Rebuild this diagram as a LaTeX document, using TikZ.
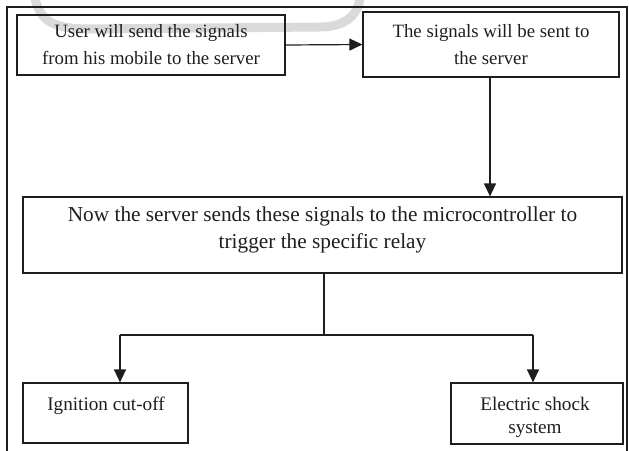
\documentclass[tikz,border=0pt]{standalone}
\usepackage{fontspec}
\setmainfont{Liberation Serif}
\usetikzlibrary{arrows.meta}
\definecolor{ink}{HTML}{1E1E1E}
\definecolor{bandgray}{HTML}{DADADA}
\tikzset{
  box/.style={draw=ink, line width=1.2pt, rectangle, inner sep=0pt, align=center, text=ink},
  toptext/.style={font=\fontsize{18.8}{27}\selectfont},
  midtext/.style={font=\fontsize{21.3}{27}\selectfont},
  lowtext/.style={font=\fontsize{19.2}{23}\selectfont},
  flow/.style={draw=ink, line width=1.2pt, -{Triangle[length=13pt,width=12pt]}},
  link/.style={draw=ink, line width=1.2pt},
}
\begin{document}
\begin{tikzpicture}[x=1pt, y=-1pt]
\useasboundingbox (0,0) rectangle (629,450);
% faint band behind the top row
\draw[draw=bandgray, line width=9pt, line cap=round]
  (35,-2) .. controls (40,22) and (55,29) .. (90,29)
  -- (320,27) .. controls (345,27) and (358,15) .. (360,-2);
% outer frame, open at the bottom
\draw[link] (7,452) -- (7,7) -- (627,7) -- (627,452);
% boxes
\node[box, toptext, minimum width=268pt, minimum height=60pt] (user) at (151,45)
  {User will send the signals\\from his mobile to the server};
\node[box, toptext, minimum width=256pt, minimum height=65pt] (sent) at (491,44.5)
  {The signals will be sent to\\the server};
\node[box, minimum width=599pt, minimum height=76pt] (relay) at (322.5,235) {};
\node[midtext, align=center, text=ink] (relaytext) at (322.5,230)
  {Now the server sends these signals to the microcontroller to\\trigger the specific relay};
\node[box, minimum width=165pt, minimum height=60pt] (ign) at (105.5,413) {};
\node[lowtext, text=ink] (igntext) at (106,406) {Ignition cut-off};
\node[box, minimum width=172pt, minimum height=61pt] (shock) at (537,413.5) {};
\node[lowtext, align=center, text=ink] (shocktext) at (535,417)
  {Electric shock\\system};
% connectors
\draw[flow] (user.east) -- (sent.west);
\draw[flow] (sent.south -| 490,0) -- (relay.north -| 490,0);
\coordinate (split) at (324,335);
\coordinate (left) at (120,335);
\coordinate (right) at (533,335);
\draw[link] (relay.south -| split) -- (split);
\draw[link] (left) -- (right);
\draw[flow] (left) -- (ign.north -| left);
\draw[flow] (right) -- (shock.north -| right);
\end{tikzpicture}
\end{document}
